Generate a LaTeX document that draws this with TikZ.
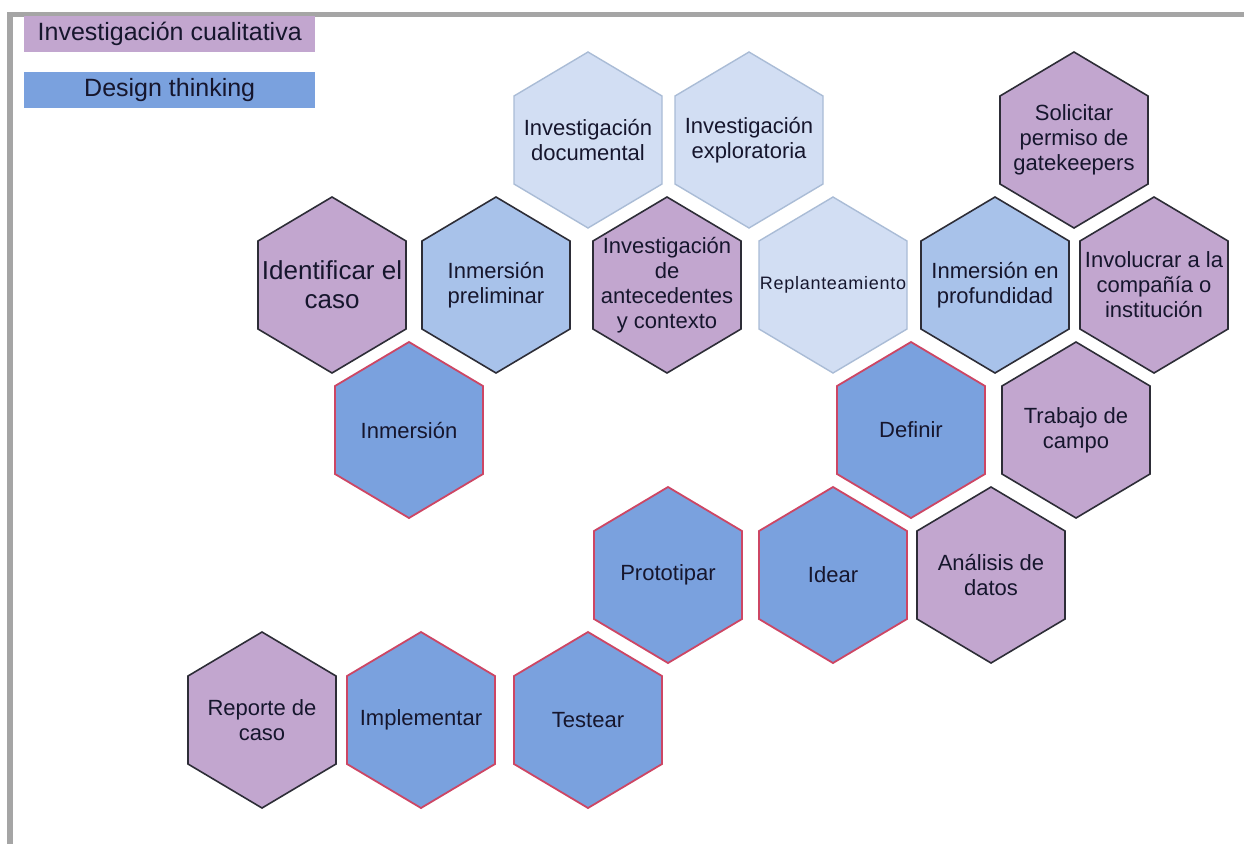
\documentclass[tikz,border=0pt]{standalone}
\usepackage{fontspec}
\setmainfont{Liberation Sans}
\usetikzlibrary{calc}

\definecolor{qualFill}{RGB}{194,166,207}
\definecolor{dtFill}{RGB}{122,161,222}
\definecolor{midBlue}{RGB}{168,194,234}
\definecolor{paleBlue}{RGB}{210,222,243}
\definecolor{darkEdge}{RGB}{45,45,55}
\definecolor{dtEdge}{RGB}{205,70,100}
\definecolor{paleEdge}{RGB}{170,188,214}
\definecolor{frameGray}{RGB}{165,165,165}
\definecolor{inkColor}{RGB}{22,22,45}

\tikzset{
  qualHex/.style={fill=qualFill, draw=darkEdge, line width=1.6pt},
  dtHex/.style={fill=dtFill, draw=dtEdge, line width=1.8pt},
  midHex/.style={fill=midBlue, draw=darkEdge, line width=1.6pt},
  paleHex/.style={fill=paleBlue, draw=paleEdge, line width=1.4pt},
  cellText/.style={text=inkColor, align=center, inner sep=0pt,
    font=\fontsize{22}{25}\selectfont},
  bigText/.style={font=\fontsize{26}{29}\selectfont},
  spacedText/.style={font=\addfontfeature{LetterSpace=4}\fontsize{18}{21}\selectfont},
  legendBox/.style={minimum width=291pt, minimum height=36pt, inner sep=0pt,
    text=inkColor, font=\fontsize{25}{28}\selectfont}
}

% hexagon (pointy top) with its label node
% [#1] text options, #2 name, #3 x, #4 y, #5 style, #6 text
\newcommand\hexcell[6][]{%
  \path[#5] ($(#3,#4)+(74,-44)$) -- ($(#3,#4)+(0,-88)$) -- ($(#3,#4)+(-74,-44)$)
    -- ($(#3,#4)+(-74,44)$) -- ($(#3,#4)+(0,88)$) -- ($(#3,#4)+(74,44)$) -- cycle;
  \node[cellText,#1] (#2) at (#3,#4) {#6};%
}

\begin{document}
\begin{tikzpicture}[x=1pt,y=-1pt]
\useasboundingbox (0,0) rectangle (1244,844);
\fill[white] (0,0) rectangle (1244,844);

% frame lines
\fill[frameGray] (7,12) rectangle (1244,17);
\fill[frameGray] (7,12) rectangle (13,844);

% legend
\node[legendBox, fill=qualFill, anchor=north west] (legQual) at (24,16) {Investigación cualitativa};
\node[legendBox, fill=dtFill, anchor=north west] (legDT) at (24,72) {Design thinking};

% top row
\hexcell{invDoc}{588}{140}{paleHex}{Investigación\\documental}
\hexcell{invExp}{749}{140}{paleHex}{Investigación\\exploratoria}
\hexcell{solicitar}{1074}{140}{qualHex}{Solicitar\\permiso de\\gatekeepers}

% second row
\hexcell[bigText]{identificar}{332}{285}{qualHex}{Identificar el\\caso}
\hexcell{inmPrel}{496}{285}{midHex}{Inmersión\\preliminar}
\hexcell{antecedentes}{667}{285}{qualHex}{Investigación\\de\\antecedentes\\y contexto}
\hexcell[spacedText]{replanteo}{833}{285}{paleHex}{Replanteamiento}
\hexcell{inmProf}{995}{285}{midHex}{Inmersión en\\profundidad}
\hexcell{involucrar}{1154}{285}{qualHex}{Involucrar a la\\compañía o\\institución}

% third row
\hexcell{inmersion}{409}{430}{dtHex}{Inmersión}
\hexcell{definir}{911}{430}{dtHex}{Definir}
\hexcell{campo}{1076}{430}{qualHex}{Trabajo de\\campo}

% fourth row
\hexcell{prototipar}{668}{575}{dtHex}{Prototipar}
\hexcell{idear}{833}{575}{dtHex}{Idear}
\hexcell{analisis}{991}{575}{qualHex}{Análisis de\\datos}

% fifth row
\hexcell{reporte}{262}{720}{qualHex}{Reporte de\\caso}
\hexcell{implementar}{421}{720}{dtHex}{Implementar}
\hexcell{testear}{588}{720}{dtHex}{Testear}
\end{tikzpicture}
\end{document}
